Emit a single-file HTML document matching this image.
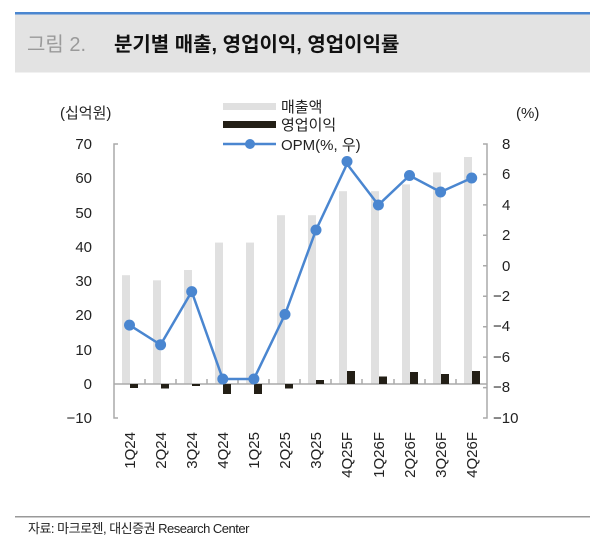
<!DOCTYPE html>
<html><head><meta charset="utf-8"><style>
body{margin:0;background:#fff;width:600px;height:550px;overflow:hidden;font-family:"Liberation Sans","Noto Sans CJK KR",sans-serif}
</style></head><body>
<svg width="600" height="550" xmlns="http://www.w3.org/2000/svg" font-family="Liberation Sans, Noto Sans CJK KR, sans-serif">
<rect x="15" y="12" width="575" height="2.5" fill="#4a86d0"/>
<rect x="15" y="14.5" width="575" height="58" fill="#e3e3e3"/>
<text x="27" y="51" font-size="20" fill="#9a9a9a">그림 2.</text>
<text x="114" y="51" font-size="20" font-weight="bold" fill="#111">분기별 매출, 영업이익, 영업이익률</text>
<text x="60" y="118" font-size="15" fill="#222">(십억원)</text>
<text x="516" y="118" font-size="15" fill="#222">(%)</text>
<rect x="223" y="103" width="53" height="7" fill="#e0e0e0"/>
<rect x="223" y="121" width="53" height="7" fill="#231f16"/>
<line x1="223" y1="144" x2="276" y2="144" stroke="#4a86d0" stroke-width="2.5"/>
<circle cx="250" cy="144" r="5" fill="#4a86d0"/>
<text x="281" y="112" font-size="15" fill="#222">매출액</text>
<text x="281" y="130" font-size="15" fill="#222">영업이익</text>
<text x="281" y="150" font-size="15" fill="#222">OPM(%, 우)</text>
<g font-size="15" fill="#222" text-anchor="end">
<text x="92" y="149">70</text><text x="92" y="183">60</text><text x="92" y="218">50</text><text x="92" y="252">40</text><text x="92" y="286">30</text><text x="92" y="320">20</text><text x="92" y="355">10</text><text x="92" y="389">0</text><text x="92" y="423">−10</text>
</g>
<g font-size="15" fill="#222" text-anchor="start">
<text x="502" y="149">8</text><text x="502" y="179">6</text><text x="502" y="210">4</text><text x="502" y="240">2</text><text x="502" y="271">0</text><text x="493" y="301">−2</text><text x="493" y="331">−4</text><text x="493" y="362">−6</text><text x="493" y="392">−8</text><text x="493" y="423">−10</text>
</g>
<g fill="#e0e0e0">
<rect x="122" y="275.2" width="8" height="108.8"/>
<rect x="153" y="280.3" width="8" height="103.7"/>
<rect x="184" y="270" width="8" height="114"/>
<rect x="215" y="242.6" width="8" height="141.4"/>
<rect x="246" y="242.6" width="8" height="141.4"/>
<rect x="277" y="215.2" width="8" height="168.8"/>
<rect x="308" y="215.2" width="8" height="168.8"/>
<rect x="339" y="191.2" width="8" height="192.8"/>
<rect x="371" y="191.2" width="8" height="192.8"/>
<rect x="402" y="184.4" width="8" height="199.6"/>
<rect x="433" y="172.4" width="8" height="211.6"/>
<rect x="464" y="157" width="8" height="227"/>
</g>
<g stroke="#aaa" stroke-width="1.5" fill="none">
<path d="M118 144H114V418H118"/><path d="M483 144H487V418H483"/>
<line x1="114" y1="384" x2="487" y2="384"/>
<path d="M145 384v-5M176 384v-5M207 384v-5M238 384v-5M269 384v-5M300 384v-5M331 384v-5M362 384v-5M394 384v-5M425 384v-5M456 384v-5"/>
<path d="M483 174.4h4M483 204.9h4M483 235.3h4M483 265.8h4M483 296.2h4M483 326.7h4M483 357.1h4M483 387.6h4"/>
</g>
<g fill="#231f16">
<rect x="130" y="384" width="8" height="4"/>
<rect x="161" y="384" width="8" height="4.5"/>
<rect x="192" y="384" width="8" height="2"/>
<rect x="223" y="384" width="8" height="10"/>
<rect x="254" y="384" width="8" height="10"/>
<rect x="285" y="384" width="8" height="4.5"/>
<rect x="316" y="380" width="8" height="4"/>
<rect x="347" y="371" width="8" height="13"/>
<rect x="379" y="376.5" width="8" height="7.5"/>
<rect x="410" y="372" width="8" height="12"/>
<rect x="441" y="374" width="8" height="10"/>
<rect x="472" y="371" width="8" height="13"/>
</g>
<polyline fill="none" stroke="#4a86d0" stroke-width="2.5" points="129.5,325.1 160.6,344.8 191.7,291.6 222.8,379 253.9,379 285,314.4 316,230 347,164 378.4,205 409.5,175.5 440.6,192 471.7,178"/>
<g fill="#4a86d0">
<circle cx="129.5" cy="325.1" r="5.5"/><circle cx="160.6" cy="344.8" r="5.5"/><circle cx="191.7" cy="291.6" r="5.5"/><circle cx="222.8" cy="379" r="5.5"/><circle cx="253.9" cy="379" r="5.5"/><circle cx="285" cy="314.4" r="5.5"/><circle cx="316" cy="230" r="5.5"/><circle cx="347" cy="161.5" r="5.5"/><circle cx="378.4" cy="205" r="5.5"/><circle cx="409.5" cy="175.5" r="5.5"/><circle cx="440.6" cy="192" r="5.5"/><circle cx="471.7" cy="178" r="5.5"/>
</g>
<g font-size="15" fill="#222" text-anchor="end">
<text transform="translate(135,432) rotate(-90)">1Q24</text>
<text transform="translate(166,432) rotate(-90)">2Q24</text>
<text transform="translate(197,432) rotate(-90)">3Q24</text>
<text transform="translate(228,432) rotate(-90)">4Q24</text>
<text transform="translate(259,432) rotate(-90)">1Q25</text>
<text transform="translate(290,432) rotate(-90)">2Q25</text>
<text transform="translate(321,432) rotate(-90)">3Q25</text>
<text transform="translate(352,432) rotate(-90)">4Q25F</text>
<text transform="translate(384,432) rotate(-90)">1Q26F</text>
<text transform="translate(415,432) rotate(-90)">2Q26F</text>
<text transform="translate(446,432) rotate(-90)">3Q26F</text>
<text transform="translate(477,432) rotate(-90)">4Q26F</text>
</g>
<rect x="15" y="516" width="575" height="1.5" fill="#999"/>
<text x="28" y="533" font-size="13" fill="#222" letter-spacing="-0.5">자료: 마크로젠, 대신증권 Research Center</text>
</svg>
</body></html>
